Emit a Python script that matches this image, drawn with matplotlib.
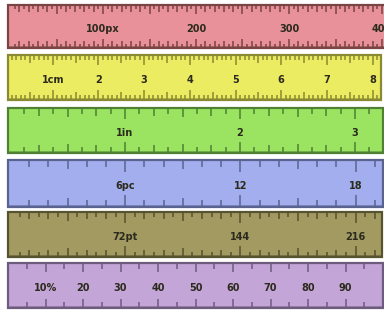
import numpy as np
import matplotlib
matplotlib.use("Agg")
import matplotlib.pyplot as plt
from matplotlib.patches import Rectangle

W, H = 384, 310

# ruler data: unit values of labels, label text, tick spacing
px_labels = [100, 200, 300, 400]
px_text = ["100px", "200", "300", "400"]
cm_labels = [1, 2, 3, 4, 5, 6, 7, 8]
cm_text = ["1cm", "2", "3", "4", "5", "6", "7", "8"]
in_labels = [1, 2, 3]
in_text = ["1in", "2", "3"]
pc_labels = [6, 12, 18]
pc_text = ["6pc", "12", "18"]
pt_labels = [72, 144, 216]
pt_text = ["72pt", "144", "216"]
pct_labels = [10, 20, 30, 40, 50, 60, 70, 80, 90]
pct_text = ["10%", "20", "30", "40", "50", "60", "70", "80", "90"]

# tick levels: (every, length as fraction of ruler height)
px_levels = [(50, 0.22), (10, 0.16), (5, 0.10)]
cm_levels = [(1, 0.22), (0.5, 0.17), (0.1, 0.11)]
in_levels = [(1, 0.25), (0.5, 0.21), (0.25, 0.17), (0.125, 0.13)]
pc_levels = [(6, 0.25), (3, 0.20), (1, 0.15)]
pt_levels = [(72, 0.24), (36, 0.19), (12, 0.15), (6, 0.11)]
pct_levels = [(10, 0.20), (5, 0.14)]

rulers = [
    # labels, texts, levels, origin px, px per unit, top, bottom, right end, fill, edge
    (px_labels, px_text, px_levels, 10, 0.93, 5, 48, 392, "#e8919b", "#7a4444"),
    (cm_labels, cm_text, cm_levels, 7, 45.7, 55, 100, 381, "#ecec62", "#8a8a32"),
    (in_labels, in_text, in_levels, 10, 115.0, 108, 153, 383, "#9be462", "#4f8034"),
    (pc_labels, pc_text, pc_levels, 10, 19.2, 160, 207, 383, "#a3aeee", "#5a6390"),
    (pt_labels, pt_text, pt_levels, 10, 1.6, 212, 257, 382, "#a39a62", "#575230"),
    (pct_labels, pct_text, pct_levels, 8, 3.75, 263, 308, 383, "#c3a5d8", "#6e5c7e"),
]

fig = plt.figure(figsize=(W / 100, H / 100), dpi=100)
fig.patch.set_facecolor("white")

for labels, texts, levels, origin, ppu, top, bot, right, fill, edge in rulers:
    ax = fig.add_axes([0, 1 - bot / H, 1, (bot - top) / H])
    ax.set_xlim(-origin / ppu, (W - origin) / ppu)
    ax.set_ylim(1, 0)
    ax.axis("off")

    x0 = (8 - origin) / ppu
    x1 = (right - origin) / ppu
    ax.add_patch(Rectangle((x0, 0), x1 - x0, 1, facecolor=fill, edgecolor=edge,
                           linewidth=1.6, clip_on=False, zorder=1))
    # darker bottom edge for a little depth
    ax.plot([x0, x1], [0.97, 0.97], color=edge, linewidth=1.2, alpha=0.6,
            clip_on=False, zorder=2)

    step = levels[-1][0]
    vals = np.arange(step, x1, step)
    lens = []
    for v in vals:
        ln = levels[-1][1]
        for every, l in levels:
            r = v / every
            if abs(r - round(r)) < 1e-6:
                ln = l
                break
        lens.append(ln)
    lens = np.array(lens)
    ax.vlines(vals, 0, lens, color=edge, linewidth=1.1, zorder=3)
    ax.vlines(vals, 1 - lens, 1, color=edge, linewidth=1.1, zorder=3)

    for v, t in zip(labels, texts):
        ax.text(v, 0.56, t, ha="center", va="center", fontsize=7,
                fontweight="bold", color="#2b2a1c", zorder=4, clip_on=False)

fig.savefig("out.png", dpi=100)
